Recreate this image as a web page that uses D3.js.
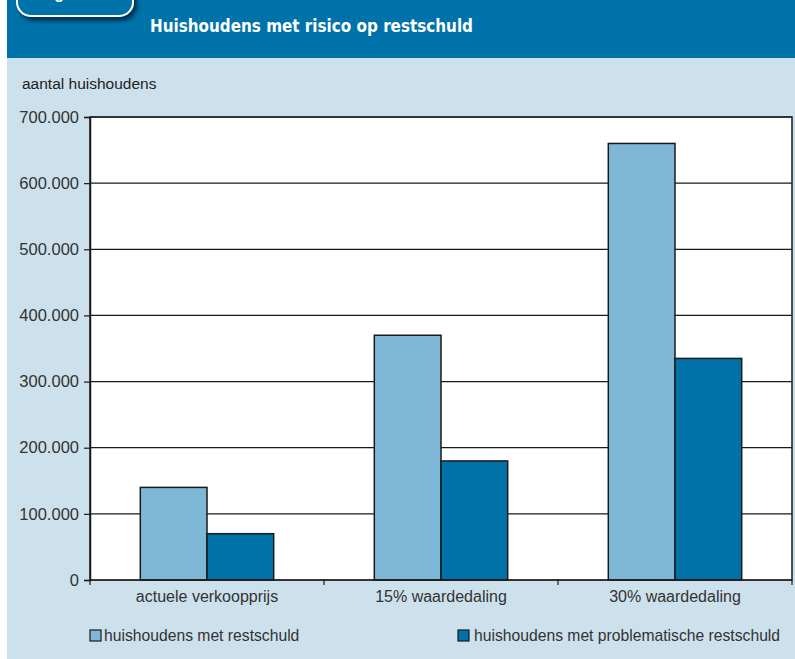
<!DOCTYPE html>
<html>
<head>
    <meta charset="utf-8">
    <title>Huishoudens met risico op restschuld</title>
    <script src="https://d3js.org/d3.v7.min.js"></script>
    <style>
        html, body { margin: 0; padding: 0; background: white; }
        svg { display: block; font-family: "Liberation Sans", Arial, sans-serif; }
    </style>
</head>
<body>
<div id="chart"></div>
<script>
    // Data
    const categories = ["actuele verkoopprijs", "15% waardedaling", "30% waardedaling"];
    const seriesNames = ["huishoudens met restschuld", "huishoudens met problematische restschuld"];
    const restschuld = [140000, 370000, 660000];
    const problematisch = [70000, 180000, 335000];
    const yTicks = [0, 100000, 200000, 300000, 400000, 500000, 600000, 700000];

    const colors = ["#7fb8d6", "#0072a8"];

    const W = 795, H = 659;
    const margins = { top: 117, right: 3, bottom: 79, left: 90 };
    const width = W - margins.left - margins.right;
    const height = H - margins.top - margins.bottom;

    const svg = d3.select("#chart").append("svg")
        .attr("width", W)
        .attr("height", H);

    // shadow for the badge
    const defs = svg.append("defs");
    const filt = defs.append("filter").attr("id", "shadow")
        .attr("x", "-20%").attr("y", "-50%").attr("width", "140%").attr("height", "200%");
    filt.append("feDropShadow")
        .attr("dx", 3).attr("dy", 4).attr("stdDeviation", 2)
        .attr("flood-color", "#00243a").attr("flood-opacity", 0.8);

    // panels
    svg.append("rect").attr("x", 7).attr("y", 0).attr("width", W - 7).attr("height", H)
        .attr("fill", "#cce1ec");
    svg.append("rect").attr("x", 7).attr("y", 0).attr("width", W - 7).attr("height", 58)
        .attr("fill", "#0072aa");

    // badge, mostly cut off at the top (as in the original)
    svg.append("rect")
        .attr("x", 17).attr("y", -30).attr("width", 116).attr("height", 46)
        .attr("rx", 14)
        .attr("fill", "#0072aa")
        .attr("stroke", "white").attr("stroke-width", 2)
        .attr("filter", "url(#shadow)");
    svg.append("text")
        .attr("x", 40).attr("y", -1)
        .attr("fill", "white")
        .style("font-size", "16px")
        .style("font-weight", "bold")
        .text("Figuur 3");

    // title (condensed bold)
    svg.append("text")
        .attr("x", 150).attr("y", 32)
        .attr("fill", "white")
        .attr("textLength", 323)
        .attr("lengthAdjust", "spacingAndGlyphs")
        .style("font-family", "'Liberation Sans Narrow', 'DejaVu Sans Condensed', sans-serif")
        .style("font-weight", "bold")
        .style("font-size", "18px")
        .text("Huishoudens met risico op restschuld");

    // y axis title
    svg.append("text")
        .attr("x", 22).attr("y", 89)
        .attr("fill", "#222")
        .style("font-size", "15.5px")
        .text("aantal huishoudens");

    const chartArea = svg.append("g")
        .attr("transform", `translate(${margins.left},${margins.top})`);

    const x0 = d3.scaleBand().domain(categories).range([0, width]).paddingInner(0).paddingOuter(0);
    const x1 = d3.scaleBand().domain(seriesNames)
        .range([x0.bandwidth() * 0.215, x0.bandwidth() * 0.785]);
    const y = d3.scaleLinear().domain([0, 700000]).range([height, 0]);

    // plot background
    chartArea.append("rect")
        .attr("width", width).attr("height", height)
        .attr("fill", "white");

    // gridlines
    chartArea.selectAll(".grid")
        .data(yTicks)
        .enter().append("line")
        .attr("x1", 0).attr("x2", width)
        .attr("y1", d => y(d)).attr("y2", d => y(d))
        .attr("stroke", "#1a1a1a").attr("stroke-width", 1.2);

    // bars
    const rows = categories.map((c, i) => ({ cat: c, vals: [restschuld[i], problematisch[i]] }));
    const groups = chartArea.selectAll(".grp")
        .data(rows).enter().append("g")
        .attr("transform", d => `translate(${x0(d.cat)},0)`);
    groups.selectAll("rect")
        .data(d => d.vals.map((v, j) => ({ name: seriesNames[j], v, j })))
        .enter().append("rect")
        .attr("x", d => x1(d.name))
        .attr("width", x1.bandwidth())
        .attr("y", d => y(d.v))
        .attr("height", d => y(0) - y(d.v))
        .attr("fill", d => colors[d.j])
        .attr("stroke", "#1a1a1a").attr("stroke-width", 1.5);

    // frame
    chartArea.append("rect")
        .attr("width", width).attr("height", height)
        .attr("fill", "none")
        .attr("stroke", "#1a1a1a").attr("stroke-width", 1.5);

    // y axis
    const yAxis = chartArea.append("g")
        .call(d3.axisLeft(y).tickValues(yTicks).tickSize(6).tickPadding(5)
            .tickFormat(d => d === 0 ? "0" : d3.format(",")(d).replace(/,/g, ".")));
    yAxis.select(".domain").attr("stroke", "#1a1a1a").attr("stroke-width", 1.5);
    yAxis.selectAll(".tick line").attr("stroke", "#1a1a1a").attr("stroke-width", 1.2);
    yAxis.selectAll("text")
        .attr("fill", "#333")
        .style("font-family", "'Liberation Sans', Arial, sans-serif")
        .style("font-size", "16.5px");

    // x axis: ticks at category boundaries
    const boundaries = categories.map(c => x0(c)).concat([width]);
    chartArea.selectAll(".xtick")
        .data(boundaries).enter().append("line")
        .attr("x1", d => d).attr("x2", d => d)
        .attr("y1", height).attr("y2", height + 5)
        .attr("stroke", "#1a1a1a").attr("stroke-width", 1.2);
    chartArea.selectAll(".xlabel")
        .data(categories).enter().append("text")
        .attr("x", d => x0(d) + x0.bandwidth() / 2)
        .attr("y", height + 22)
        .attr("text-anchor", "middle")
        .attr("fill", "#333")
        .style("font-size", "16px")
        .text(d => d);

    // legend
    const legendX = [90, 458];
    seriesNames.forEach((name, i) => {
        const g = svg.append("g").attr("transform", `translate(${legendX[i]},630)`);
        g.append("rect")
            .attr("width", 11).attr("height", 11)
            .attr("fill", colors[i])
            .attr("stroke", "#1a1a1a").attr("stroke-width", 1.2);
        g.append("text")
            .attr("x", 14 + i * 2).attr("y", 11)
            .attr("fill", "#333")
            .style("font-size", "15.7px")
            .text(name);
    });
</script>
</body>
</html>
